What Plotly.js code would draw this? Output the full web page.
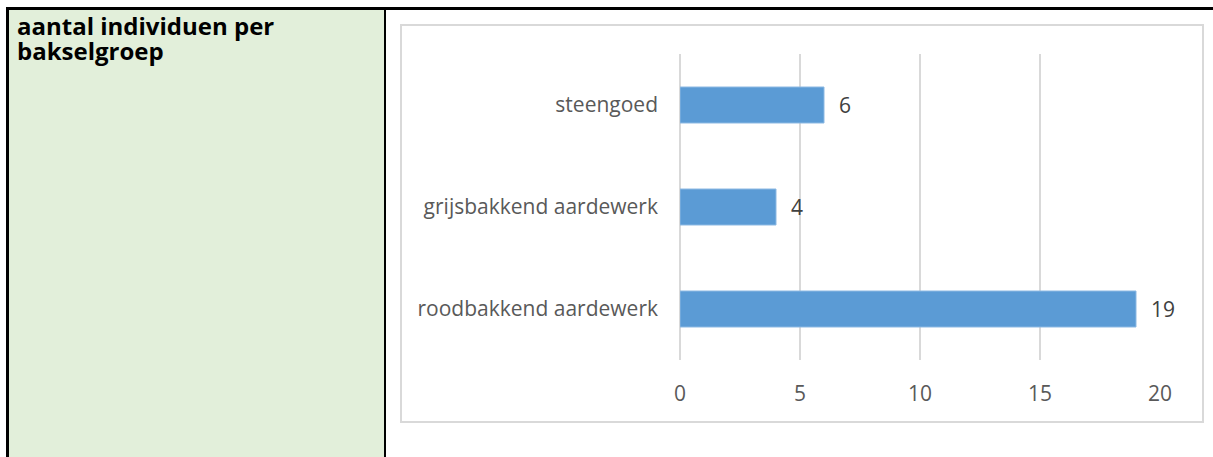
<!DOCTYPE html>
<html>
<head>
<meta charset="utf-8">
<script src="https://cdn.plot.ly/plotly-3.0.1.min.js"></script>
<style>
  html, body { margin: 0; padding: 0; background: #ffffff; width: 1213px; height: 457px; overflow: hidden; }
  #topline { position: absolute; left: 6px; top: 7px; width: 1207px; height: 3px; background: #000; }
  #leftline { position: absolute; left: 6px; top: 7px; width: 3px; height: 450px; background: #000; }
  #midline { position: absolute; left: 384px; top: 7px; width: 2px; height: 450px; background: #000; }
  #cell { position: absolute; left: 9px; top: 10px; width: 375px; height: 447px; background: #E2EFDA; }
  .celltext { position: absolute; left: 17px; font-family: "Open Sans", sans-serif; font-weight: bold; font-size: 24px; line-height: 25px; height: 25px; color: #000; white-space: nowrap; }
  #chartbox { position: absolute; left: 400px; top: 24px; width: 800px; height: 395px; border: 2px solid #D9D9D9; background: #fff; }
  #chart { position: absolute; left: 0; top: 0; width: 1213px; height: 457px; }
</style>
</head>
<body>
<div id="cell"></div>
<div id="topline"></div>
<div id="leftline"></div>
<div id="midline"></div>
<div class="celltext" style="top:13px">aantal individuen per</div>
<div class="celltext" style="top:38px">bakselgroep</div>
<div id="chartbox"></div>
<div id="chart"></div>
<script>
const categories = ["roodbakkend aardewerk", "grijsbakkend aardewerk", "steengoed"];
const counts = [19, 4, 6];
const xTicks = [0, 5, 10, 15, 20];

const labelFont = { family: "Open Sans, sans-serif", size: 21, color: "#595959" };

const trace = {
  type: "bar",
  orientation: "h",
  y: categories,
  x: counts,
  marker: { color: "#5B9BD5", line: { color: "#8DB9E3", width: 1 } },
  hoverinfo: "none"
};

const annotations = categories.map((c, i) => ({
  x: counts[i], y: c, xref: "x", yref: "y",
  text: String(counts[i]),
  showarrow: false, xanchor: "left", yanchor: "middle",
  xshift: 13,
  font: { family: "Open Sans, sans-serif", size: 21, color: "#404040" }
}));

const layout = {
  width: 1213, height: 457,
  margin: { l: 680, r: 53, t: 54, b: 97, pad: 0 },
  paper_bgcolor: "rgba(0,0,0,0)",
  plot_bgcolor: "rgba(0,0,0,0)",
  showlegend: false,
  bargap: 0.647,
  xaxis: {
    range: [0, 20],
    tickvals: xTicks,
    ticktext: xTicks.map(String),
    showgrid: true, gridcolor: "#D9D9D9", gridwidth: 1.5,
    zeroline: true, zerolinecolor: "#D9D9D9", zerolinewidth: 1.5,
    showline: false,
    ticks: "", ticklabelstandoff: 19,
    tickfont: labelFont,
    fixedrange: true
  },
  yaxis: {
    type: "category",
    showgrid: false, zeroline: false, showline: false,
    ticks: "", ticklabelstandoff: 21,
    tickfont: labelFont,
    fixedrange: true
  },
  annotations: annotations
};

Plotly.newPlot("chart", [trace], layout, { displayModeBar: false, staticPlot: true });
</script>
</body>
</html>
